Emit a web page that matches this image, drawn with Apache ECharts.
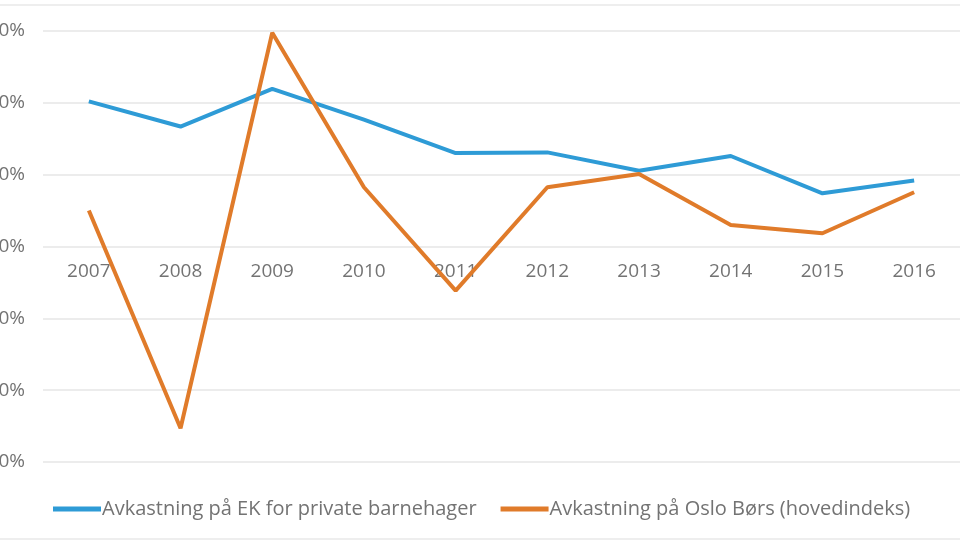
<!DOCTYPE html>
<html>
<head>
<meta charset="utf-8">
<script src="https://cdn.jsdelivr.net/npm/echarts@6/dist/echarts.min.js"></script>
<style>html,body{margin:0;padding:0;background:#fff}#c{width:960px;height:548px}</style>
</head>
<body>
<div id="c"></div>
<script>
const years = ['2007','2008','2009','2010','2011','2012','2013','2014','2015','2016'];
const barnehager = [40.4, 33.4, 43.9, 35.3, 26.0, 26.2, 21.1, 25.2, 14.8, 18.4];
const osloBors = [10.0, -50.6, 59.5, 16.5, -12.3, 16.5, 20.2, 6.0, 3.7, 15.1];
const seriesNames = ['Avkastning på EK for private barnehager', 'Avkastning på Oslo Børs (hovedindeks)'];

const chart = echarts.init(document.getElementById('c'));
const font = 'Open Sans';
chart.setOption({
  backgroundColor: '#fff',
  animation: false,
  textStyle: { fontFamily: font },
  grid: { left: 43, right: 0, top: 31, bottom: 86, containLabel: false, outerBoundsMode: 'none' },
  legend: {
    top: 494, left: 48,
    itemWidth: 48, itemHeight: 5, itemGap: 24,
    icon: 'rect',
    textStyle: { fontSize: 20, color: '#737373', fontFamily: font, padding: [0,0,0,-4] },
    data: seriesNames
  },
  xAxis: {
    type: 'category', data: years, boundaryGap: true,
    axisLine: { show: false },
    axisTick: { show: false },
    axisLabel: { color: '#737373', fontSize: 19, margin: -200 }
  },
  yAxis: {
    type: 'value', min: -60, max: 60, interval: 20,
    axisLine: { show: false }, axisTick: { show: false },
    axisLabel: { formatter: '{value}%', color: '#737373', fontSize: 19, margin: 18 },
    splitLine: { lineStyle: { color: '#e6e6e6', width: 1.5 } }
  },
  graphic: [
    { type: 'line', shape: { x1: 0, y1: 5, x2: 960, y2: 5 }, style: { stroke: '#e8e8e8', lineWidth: 1.5 } },
    { type: 'line', shape: { x1: 0, y1: 539, x2: 960, y2: 539 }, style: { stroke: '#e8e8e8', lineWidth: 1.5 } }
  ],
  series: [
    { name: seriesNames[0], type: 'line', data: barnehager, symbol: 'none',
      lineStyle: { color: '#2e9bd6', width: 4 }, itemStyle: { color: '#2e9bd6' } },
    { name: seriesNames[1], type: 'line', data: osloBors, symbol: 'none',
      lineStyle: { color: '#e07b2a', width: 4 }, itemStyle: { color: '#e07b2a' } }
  ]
});
</script>
</body>
</html>
